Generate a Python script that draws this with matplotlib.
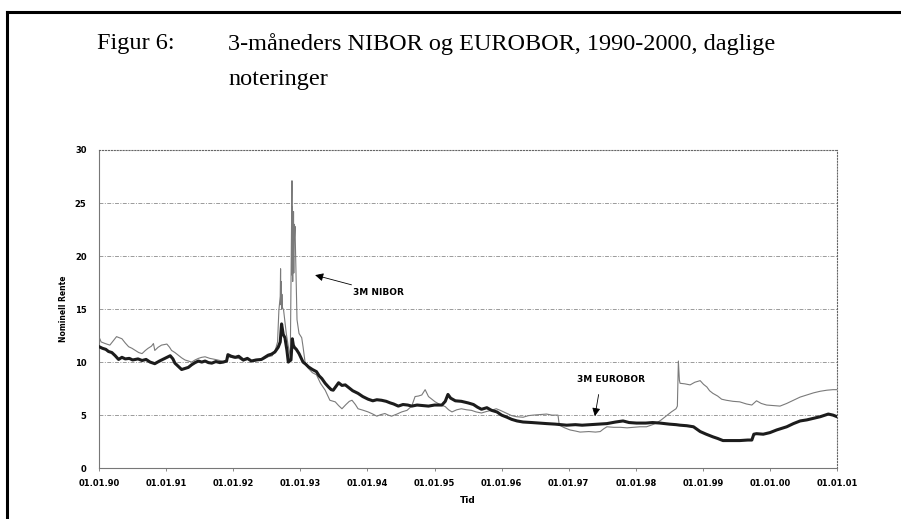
import matplotlib
matplotlib.use("Agg")
import matplotlib.pyplot as plt
from matplotlib.lines import Line2D

# 3M EUROBOR (tykk svart linje), årstall som desimaltall
eurobor_t = [1990.00, 1990.05, 1990.10, 1990.14, 1990.19, 1990.24, 1990.29, 1990.34, 1990.39, 1990.45,
             1990.50, 1990.58, 1990.64, 1990.70, 1990.76, 1990.83, 1990.90, 1990.98, 1991.06, 1991.10,
             1991.13, 1991.18, 1991.23, 1991.28, 1991.33, 1991.38, 1991.43, 1991.48, 1991.53, 1991.58,
             1991.63, 1991.68, 1991.74, 1991.80, 1991.85, 1991.90, 1991.92, 1991.97, 1992.03, 1992.08,
             1992.15, 1992.21, 1992.27, 1992.34, 1992.42, 1992.47, 1992.52, 1992.57, 1992.62, 1992.67,
             1992.70, 1992.72, 1992.745, 1992.77, 1992.80, 1992.82, 1992.86, 1992.88, 1992.895, 1992.91,
             1992.94, 1992.98, 1993.04, 1993.08, 1993.12, 1993.18, 1993.24, 1993.28, 1993.32, 1993.37,
             1993.42, 1993.46, 1993.49, 1993.53, 1993.57, 1993.62, 1993.67, 1993.72, 1993.78, 1993.86,
             1993.93, 1994.01, 1994.08, 1994.14, 1994.21, 1994.28, 1994.34, 1994.39, 1994.46, 1994.53,
             1994.60, 1994.66, 1994.74, 1994.82, 1994.91, 1995.00, 1995.11, 1995.16, 1995.20, 1995.24,
             1995.31, 1995.40, 1995.50, 1995.58, 1995.64, 1995.70, 1995.78, 1995.85, 1995.93, 1996.00,
             1996.08, 1996.15, 1996.23, 1996.32, 1996.45, 1996.55, 1996.67, 1996.80, 1996.97, 1997.10,
             1997.20, 1997.32, 1997.45, 1997.57, 1997.70, 1997.81, 1997.90, 1998.01, 1998.15, 1998.25,
             1998.36, 1998.50, 1998.60, 1998.66, 1998.76, 1998.86, 1998.96, 1999.05, 1999.15, 1999.22,
             1999.30, 1999.45, 1999.55, 1999.67, 1999.73, 1999.76, 1999.80, 1999.90, 2000.00, 2000.10,
             2000.20, 2000.25, 2000.35, 2000.45, 2000.55, 2000.65, 2000.75, 2000.87, 2000.94, 2001.00]
eurobor_v = [11.45, 11.3, 11.2, 11.0, 10.9, 10.6, 10.25, 10.45, 10.3, 10.35,
             10.2, 10.3, 10.15, 10.25, 10.0, 9.85, 10.1, 10.35, 10.6, 10.3,
             9.9, 9.6, 9.3, 9.4, 9.5, 9.75, 9.95, 10.1, 10.0, 10.1,
             9.95, 9.9, 10.05, 9.95, 10.0, 10.1, 10.7, 10.55, 10.45, 10.55,
             10.2, 10.35, 10.1, 10.2, 10.25, 10.45, 10.65, 10.75, 10.95, 11.4,
             11.9, 13.6, 12.6, 12.3, 11.1, 10.0, 10.2, 12.2, 11.6, 11.4,
             11.2, 10.8, 10.0, 9.8, 9.55, 9.3, 9.1, 8.7, 8.45, 8.0,
             7.65, 7.4, 7.35, 7.7, 8.05, 7.8, 7.85, 7.6, 7.3, 7.05,
             6.75, 6.5, 6.35, 6.45, 6.4, 6.3, 6.15, 6.05, 5.85, 6.0,
             5.95, 5.85, 5.95, 5.9, 5.85, 5.95, 5.95, 6.3, 6.95, 6.6,
             6.35, 6.3, 6.15, 6.0, 5.75, 5.55, 5.7, 5.45, 5.3, 5.0,
             4.8, 4.6, 4.45, 4.35, 4.3, 4.25, 4.2, 4.15, 4.05, 4.1,
             4.05, 4.1, 4.15, 4.2, 4.35, 4.45, 4.3, 4.25, 4.25, 4.3,
             4.25, 4.15, 4.1, 4.05, 4.0, 3.9, 3.45, 3.2, 2.95, 2.8,
             2.6, 2.6, 2.6, 2.65, 2.65, 3.2, 3.25, 3.2, 3.35, 3.6,
             3.8, 3.9, 4.2, 4.45, 4.55, 4.7, 4.85, 5.1, 5.0, 4.85]

# 3M NIBOR (tynn grå linje)
nibor_t = [1990.00, 1990.03, 1990.09, 1990.16, 1990.21, 1990.26, 1990.30, 1990.34, 1990.39, 1990.44,
           1990.49, 1990.54, 1990.59, 1990.64, 1990.69, 1990.73, 1990.78, 1990.81, 1990.83, 1990.88,
           1990.93, 1991.01, 1991.05, 1991.08, 1991.13, 1991.18, 1991.23, 1991.28, 1991.33, 1991.38,
           1991.43, 1991.48, 1991.53, 1991.58, 1991.65, 1991.73, 1991.80, 1991.88, 1991.93, 1992.00,
           1992.08, 1992.15, 1992.22, 1992.30, 1992.38, 1992.46, 1992.52, 1992.58, 1992.63, 1992.66,
           1992.68, 1992.70, 1992.705, 1992.71, 1992.715, 1992.72, 1992.725, 1992.73, 1992.75, 1992.79,
           1992.82, 1992.85, 1992.875, 1992.878, 1992.882, 1992.886, 1992.89, 1992.894, 1992.898, 1992.902,
           1992.906, 1992.91, 1992.92, 1992.95, 1992.98, 1993.02, 1993.04, 1993.07, 1993.12, 1993.18,
           1993.24, 1993.30, 1993.37, 1993.44, 1993.52, 1993.57, 1993.62, 1993.68, 1993.73, 1993.77,
           1993.82, 1993.86, 1993.94, 1994.01, 1994.08, 1994.14, 1994.20, 1994.26, 1994.31, 1994.36,
           1994.44, 1994.51, 1994.59, 1994.66, 1994.71, 1994.76, 1994.81, 1994.86, 1994.91, 1994.96,
           1995.01, 1995.08, 1995.16, 1995.21, 1995.26, 1995.33, 1995.40, 1995.48, 1995.55, 1995.62,
           1995.70, 1995.78, 1995.85, 1995.92, 1995.98, 1996.08, 1996.15, 1996.22, 1996.32, 1996.40,
           1996.47, 1996.57, 1996.67, 1996.75, 1996.84, 1996.86, 1996.94, 1997.02, 1997.10, 1997.17,
           1997.30, 1997.40, 1997.47, 1997.52, 1997.57, 1997.67, 1997.77, 1997.87, 1997.96, 1998.06,
           1998.16, 1998.25, 1998.32, 1998.38, 1998.45, 1998.53, 1998.60, 1998.62, 1998.635, 1998.65,
           1998.66, 1998.73, 1998.81, 1998.88, 1998.96, 1999.01, 1999.06, 1999.10, 1999.15, 1999.22,
           1999.28, 1999.35, 1999.45, 1999.55, 1999.65, 1999.73, 1999.80, 1999.87, 1999.95, 2000.05,
           2000.15, 2000.25, 2000.35, 2000.45, 2000.55, 2000.65, 2000.75, 2000.85, 2000.94, 2001.00]
nibor_v = [12.35, 11.9, 11.75, 11.6, 12.0, 12.4, 12.3, 12.2, 11.8, 11.45,
           11.3, 11.1, 10.9, 10.8, 11.1, 11.3, 11.5, 11.75, 11.1, 11.4,
           11.6, 11.7, 11.4, 11.1, 10.9, 10.65, 10.4, 10.2, 10.1, 10.0,
           10.2, 10.35, 10.45, 10.5, 10.35, 10.25, 10.15, 10.0, 10.5, 10.4,
           10.35, 10.1, 10.25, 10.05, 10.2, 10.3, 10.5, 10.6, 11.2, 11.9,
           14.9, 16.2, 18.8, 15.4, 17.6, 15.0, 16.4, 15.2, 14.9, 12.7,
           11.5, 10.5, 27.1, 18.2, 24.6, 17.6, 23.8, 19.0, 24.2, 18.4,
           23.0, 21.5, 22.8, 14.0, 12.7, 12.3, 11.45, 10.0, 9.4, 9.0,
           8.8, 8.0, 7.35, 6.4, 6.25, 5.9, 5.6, 6.0, 6.3, 6.4,
           6.0, 5.6, 5.45, 5.3, 5.1, 4.9, 5.05, 5.15, 5.0, 4.9,
           5.1, 5.3, 5.45, 5.85, 6.75, 6.8, 6.9, 7.4, 6.75, 6.5,
           6.25, 6.0, 5.8, 5.5, 5.3, 5.5, 5.6, 5.5, 5.45, 5.3,
           5.2, 5.35, 5.45, 5.6, 5.45, 5.15, 4.95, 4.85, 4.8, 4.95,
           5.0, 5.05, 5.1, 5.0, 5.0, 4.05, 3.8, 3.6, 3.5, 3.4,
           3.45, 3.4, 3.45, 3.7, 3.9, 3.85, 3.85, 3.8, 3.85, 3.9,
           3.9, 4.1, 4.3, 4.55, 4.9, 5.3, 5.6, 5.85, 10.1, 8.3,
           8.0, 7.95, 7.85, 8.1, 8.25, 7.9, 7.65, 7.3, 7.05, 6.8,
           6.5, 6.4, 6.3, 6.25, 6.05, 5.95, 6.35, 6.1, 5.95, 5.9,
           5.85, 6.1, 6.4, 6.7, 6.9, 7.1, 7.25, 7.35, 7.4, 7.4]

year_ticks = list(range(1990, 2002))
year_labels = ["01.01.%02d" % (y % 100) for y in year_ticks]
y_ticks = [0, 5, 10, 15, 20, 25, 30]

fig = plt.figure(figsize=(9.01, 5.19), dpi=100)
ax = fig.add_axes([0.110, 0.098, 0.819, 0.613])

ax.plot(nibor_t, nibor_v, color="#7a7a7a", lw=0.8, zorder=3)
ax.plot(eurobor_t, eurobor_v, color="#1c1c1c", lw=2.2, zorder=4)

ax.set_xlim(1990, 2001)
ax.set_ylim(0, 30)
ax.set_xticks(year_ticks)
ax.set_xticklabels(year_labels, fontsize=6, fontweight="bold", family="DejaVu Sans")
ax.set_yticks(y_ticks)
ax.set_yticklabels([str(v) for v in y_ticks], fontsize=6, fontweight="bold", family="DejaVu Sans")
ax.tick_params(axis="x", length=2.5, width=0.6, color="#777777", pad=5)
ax.tick_params(axis="y", length=0, pad=9)

for v in y_ticks[1:-1]:
    ax.axhline(v, color="#9a9a9a", lw=0.7, ls=(0, (4, 1.5, 1, 1.5)), zorder=1)

for side in ["top", "right"]:
    ax.spines[side].set_linestyle(":")
    ax.spines[side].set_color("#666666")
    ax.spines[side].set_linewidth(0.8)
for side in ["left", "bottom"]:
    ax.spines[side].set_color("#777777")
    ax.spines[side].set_linewidth(0.8)

ax.set_ylabel("Nominell Rente", fontsize=5.5, fontweight="bold", labelpad=5)
ax.set_xlabel("Tid", fontsize=6.5, fontweight="bold", labelpad=6)

ax.annotate("3M NIBOR", xy=(1993.22, 18.2), xytext=(1993.79, 16.6),
            fontsize=6.5, fontweight="bold", va="center", ha="left",
            arrowprops=dict(arrowstyle="-|>", color="black", lw=0.6, mutation_scale=12,
                            shrinkA=30, shrinkB=0))
ax.annotate("3M EUROBOR", xy=(1997.39, 4.9), xytext=(1997.12, 8.4),
            fontsize=6.5, fontweight="bold", va="center", ha="left",
            arrowprops=dict(arrowstyle="-|>", color="black", lw=0.6, mutation_scale=12,
                            shrinkA=6, shrinkB=0, relpos=(0.35, 0)))

# tittel
fig.text(97 / 901, 1 - 44 / 519, "Figur 6:", family="Liberation Serif", fontsize=17.5, va="center")
fig.text(228 / 901, 1 - 44 / 519, "3-måneders NIBOR og EUROBOR, 1990-2000, daglige",
         family="Liberation Serif", fontsize=17.5, va="center")
fig.text(228 / 901, 1 - 79 / 519, "noteringer", family="Liberation Serif", fontsize=17.5, va="center")

# svart ramme (venstre og topp)
fig.add_artist(Line2D([7 / 901, 1.0], [1 - 12 / 519, 1 - 12 / 519], color="black", lw=2.2))
fig.add_artist(Line2D([7 / 901, 7 / 901], [0.0, 1 - 12 / 519], color="black", lw=2.2))

fig.savefig("out.png", dpi=100)
